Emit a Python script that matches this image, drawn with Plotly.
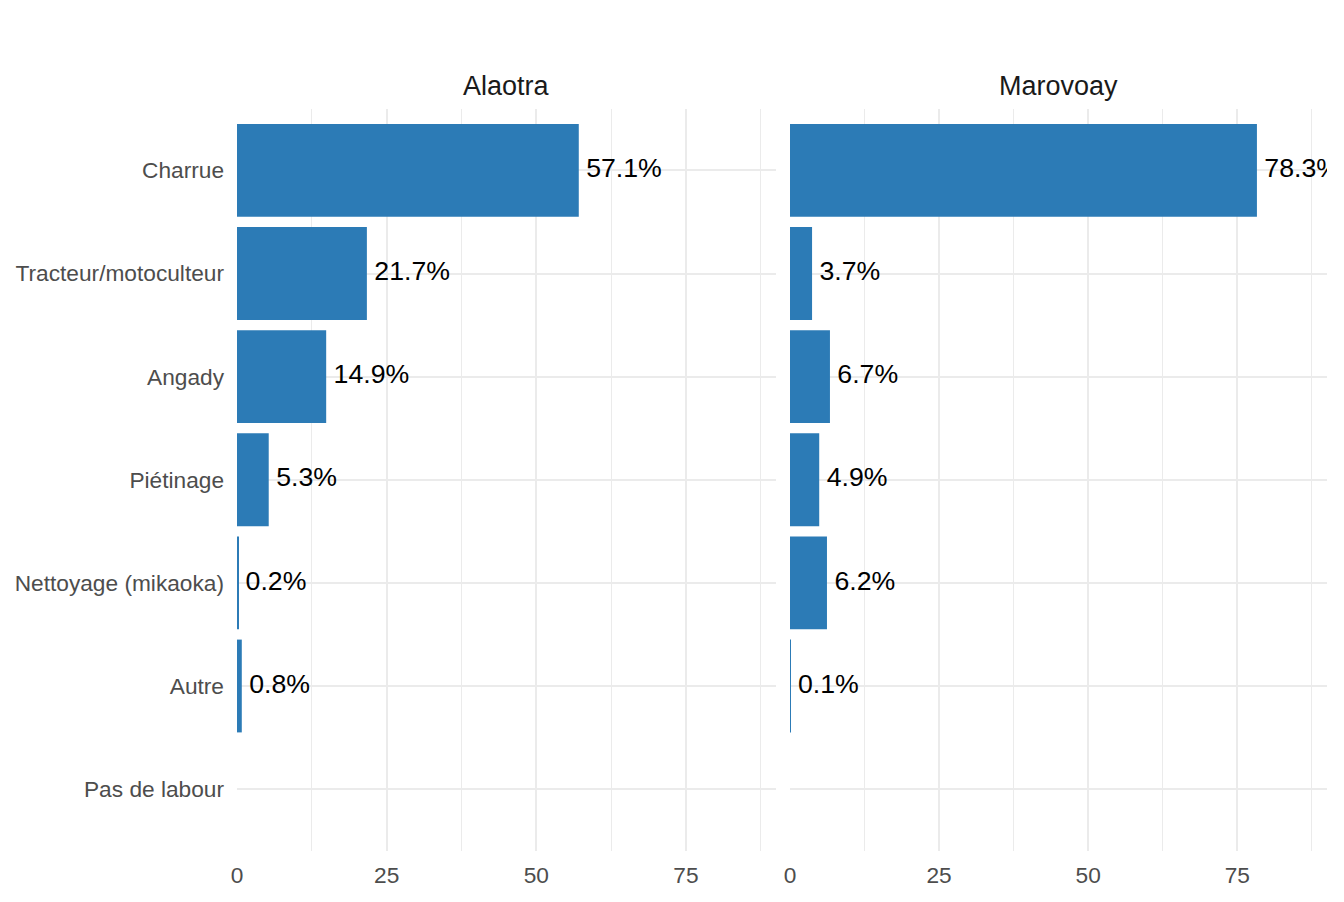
import plotly.graph_objects as go

categories = ["Charrue", "Tracteur/motoculteur", "Angady", "Piétinage",
              "Nettoyage (mikaoka)", "Autre", "Pas de labour"]
regions = ["Alaotra", "Marovoay"]
alaotra = [57.1, 21.7, 14.9, 5.3, 0.2, 0.8, None]
marovoay = [78.3, 3.7, 6.7, 4.9, 6.2, 0.1, None]
x_ticks = [0, 25, 50, 75]
x_minor = [12.5, 37.5, 62.5, 87.5]

BAR = "#2C7BB6"
GRID = "#EBEBEB"
FONT = "Liberation Sans, Arial, sans-serif"

# page body has an 8px margin; figure coordinates = screen pixels - 8
OFF = 8
W, H = 1344 - OFF, 902 - OFF
fig = go.Figure()

series = [alaotra, marovoay]
for i, vals in enumerate(series):
    xa = "x" if i == 0 else "x2"
    ya = "y" if i == 0 else "y2"
    fig.add_trace(go.Bar(
        y=categories, x=[v if v is not None else 0 for v in vals],
        orientation="h", marker=dict(color=BAR, line=dict(width=0)),
        xaxis=xa, yaxis=ya, showlegend=False, hoverinfo="x+y"))
    fig.add_trace(go.Scatter(
        y=[c for c, v in zip(categories, vals) if v is not None],
        x=[v for v in vals if v is not None],
        text=["\u00a0" + f"{v:.1f}%" for v in vals if v is not None],
        mode="text", textposition="middle right",
        textfont=dict(family=FONT, size=26.7, color="black"),
        cliponaxis=True, xaxis=xa, yaxis=ya, showlegend=False, hoverinfo="skip"))

left_dom = [(237 - OFF) / W, (776 - OFF) / W]
right_dom = [(790 - OFF) / W, (1327 - OFF) / W]
y_dom = [1 - (851 - OFF) / H, 1 - (108.5 - OFF) / H]

xcommon = dict(range=[0, 90.05], tickvals=x_ticks, showgrid=True, gridcolor=GRID,
               gridwidth=2, zeroline=False, showline=False, ticks="", automargin=False,
               tickfont=dict(family=FONT, size=22.7, color="#4D4D4D"),
               ticklabelstandoff=8,
               minor=dict(tickvals=x_minor, showgrid=True, gridcolor=GRID, gridwidth=1))
ycommon = dict(type="category", categoryorder="array", categoryarray=categories,
               range=[6.6, -0.6], showgrid=True, gridcolor=GRID, gridwidth=2,
               zeroline=False, showline=False, ticks="", automargin=False)

fig.update_layout(
    width=W, height=H, margin=dict(l=0, r=0, t=0, b=0, pad=0),
    paper_bgcolor="white", plot_bgcolor="white", bargap=0.1,
    xaxis=dict(domain=left_dom, anchor="y", **xcommon),
    xaxis2=dict(domain=right_dom, anchor="y2", **xcommon),
    yaxis=dict(domain=y_dom, anchor="x", showticklabels=True,
               tickfont=dict(family=FONT, size=22.7, color="#4D4D4D"),
               ticklabelstandoff=12, **ycommon),
    yaxis2=dict(domain=y_dom, anchor="x2", showticklabels=False, **ycommon),
    font=dict(family=FONT),
)

for dom, name in zip([left_dom, right_dom], regions):
    fig.add_annotation(x=(dom[0] + dom[1]) / 2, y=1 - (86 - OFF) / H, xref="paper", yref="paper",
                       text=name, showarrow=False, xanchor="center", yanchor="middle",
                       font=dict(family=FONT, size=27, color="#1A1A1A"))

fig.write_html("out.html")
